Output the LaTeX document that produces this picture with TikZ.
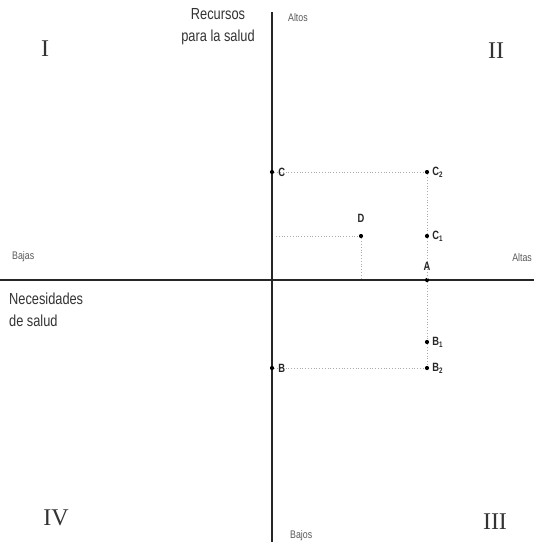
\documentclass[tikz,border=0pt]{standalone}
\usepackage{fontspec}
\setmainfont{Liberation Serif}
\setsansfont{Liberation Sans}
\begin{document}
\begin{tikzpicture}[x=1pt,y=-1pt,
  axis/.style={line width=1.3pt, black!85},
  guide/.style={dotted, line width=0.8pt, gray!65},
  pt/.style={circle, fill=black, inner sep=0pt, minimum size=4.2pt},
  lbl/.style={font=\sffamily\fontsize{12}{12}\selectfont\bfseries, text=black!85, inner sep=0pt, xscale=0.78},
  ax/.style={font=\sffamily\fontsize{11}{12}\selectfont, text=black!65, inner sep=0pt, xscale=0.8},
  title/.style={font=\sffamily\fontsize{16}{22}\selectfont, text=black!80, inner sep=0pt, xscale=0.8},
  quad/.style={font=\fontsize{24}{26}\selectfont, text=black!80, inner sep=0pt}]
\useasboundingbox (0,0) rectangle (534,542);
% axes
\coordinate (yt) at (272,12);
\coordinate (yb) at (272,542);
\coordinate (xl) at (0,280);
\coordinate (xr) at (534,280);
\draw[axis] (yt) -- (yb);
\draw[axis] (xl) -- (xr);
% points
\node[pt] (C) at (272,172) {};
\node[pt] (C2) at (427,172) {};
\node[pt] (D) at (361,236) {};
\node[pt] (C1) at (427,236) {};
\node[pt] (A) at (427,280) {};
\node[pt] (B1) at (427,342) {};
\node[pt] (B) at (272,368) {};
\node[pt] (B2) at (427,368) {};
\coordinate (Dl) at (276,236);
\coordinate (Dx) at (361,280);
% guides
\draw[guide] (C) -- (C2);
\draw[guide] (C2) -- (C1) -- (A) -- (B1) -- (B2);
\draw[guide] (Dl) -- (D);
\draw[guide] (D) -- (Dx);
\draw[guide] (B) -- (B2);
% point labels
\node[lbl, anchor=west] at ([xshift=4pt]C.east) {C};
\node[lbl, anchor=west] at ([xshift=3pt]C2.east) {C\textsubscript{2}};
\node[lbl] at ([yshift=18pt]D) {D};
\node[lbl, anchor=west] at ([xshift=3pt]C1.east) {C\textsubscript{1}};
\node[lbl] at ([yshift=14pt]A) {A};
\node[lbl, anchor=west] at ([xshift=3pt]B1.east) {B\textsubscript{1}};
\node[lbl, anchor=west] at ([xshift=4pt]B.east) {B};
\node[lbl, anchor=west] at ([xshift=3pt]B2.east) {B\textsubscript{2}};
% axis labels
\node[ax, anchor=west] (altos) at (288,18) {Altos};
\node[ax, anchor=west] (bajos) at (290,536) {Bajos};
\node[ax, anchor=west] (bajas) at (12,257) {Bajas};
\node[ax, anchor=east] (altas) at (532,258) {Altas};
\node[title, align=center] (rec) at (218,27) {Recursos\\para la salud};
\node[title, align=left, anchor=west] (nec) at (9,310) {Necesidades\\de salud};
% quadrants
\node[quad] (q1) at (45,49) {I};
\node[quad] (q2) at (496,51) {II};
\node[quad] (q3) at (495,522) {III};
\node[quad] (q4) at (56,518) {IV};
\end{tikzpicture}
\end{document}
